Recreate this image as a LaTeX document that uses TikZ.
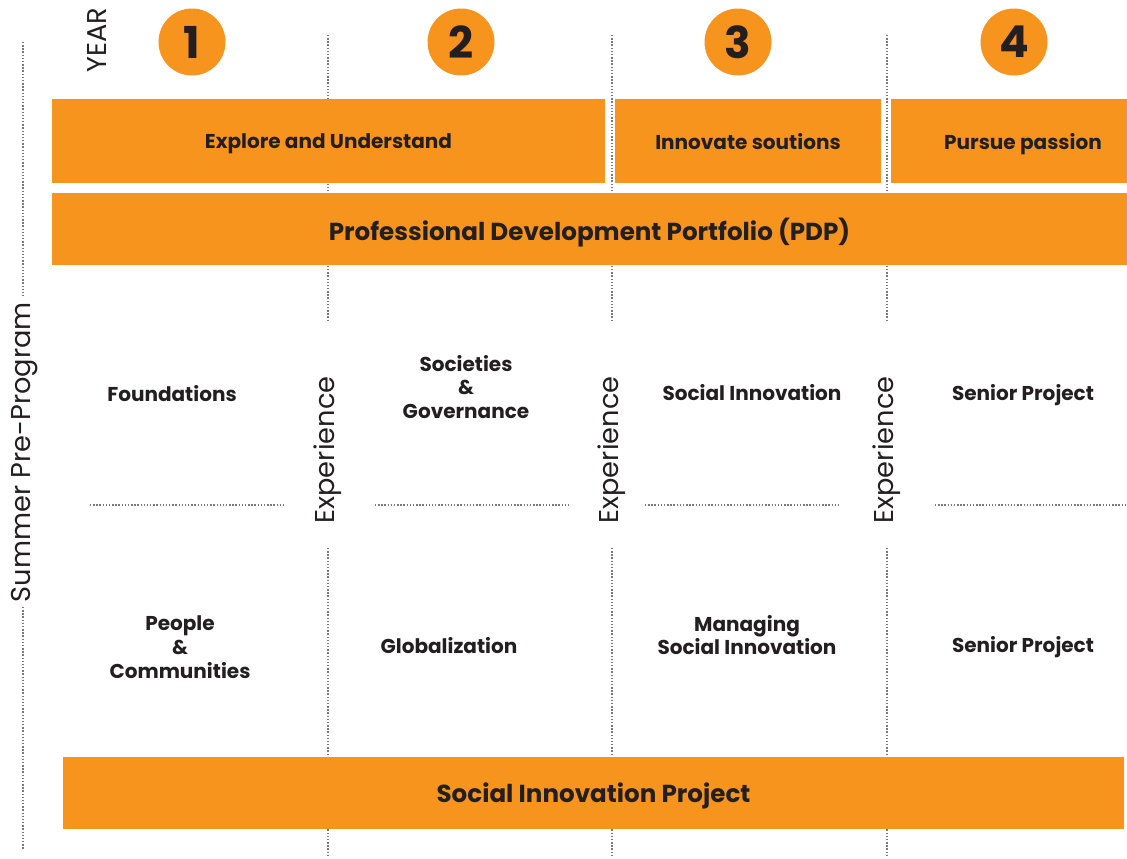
\documentclass[tikz,border=0pt]{standalone}
\usepackage{fontspec}
\setmainfont{Poppins}
\definecolor{barorange}{HTML}{F7941D}
\definecolor{ink}{HTML}{231F20}
\definecolor{dotgray}{HTML}{7A7A7A}

\begin{document}
\begin{tikzpicture}[x=0.02cm,y=-0.02cm,
    bar/.style={fill=barorange,inner sep=0pt,text=ink,text depth=0pt,
        font=\bfseries\fontsize{11.4}{13}\selectfont},
    bigbar/.style={bar,font=\bfseries\fontsize{14}{16}\selectfont},
    yearball/.style={circle,fill=barorange,minimum size=1.34cm,inner sep=0pt,
        text=ink,font=\bfseries\fontsize{25}{28}\selectfont},
    course/.style={align=center,text=ink,
        font=\bfseries\fontsize{11.4}{13.5}\selectfont},
    sidelabel/.style={rotate=90,text=ink,font=\fontsize{15.5}{18}\selectfont},
    sep/.style={draw=dotgray,line width=0.8pt,dash pattern=on 0.8pt off 1pt}]
    \useasboundingbox (0,0) rectangle (1127,859);

    % dotted separators
    \draw[sep] (23,42) -- (23,297) (23,607) -- (23,850);
    \foreach \x in {328,612,887}{
        \draw[sep] (\x,35) -- (\x,320) (\x,548) -- (\x,855);
    }
    \foreach \a/\b in {90/285,375/570,645/840,935/1127}{
        \draw[sep] (\a,505) -- (\b,505);
    }

    % years
    \node[sidelabel] (year) at (97,40) {YEAR};
    \node[yearball] (y1) at (192,42) {1};
    \node[yearball] (y2) at (461,42) {2};
    \node[yearball] (y3) at (738,42) {3};
    \node[yearball] (y4) at (1014,42) {4};

    % phases
    \node[bar,minimum width=11.06cm,minimum height=1.68cm] (explore) at (328.5,141) {Explore and Understand};
    \node[bar,minimum width=5.32cm,minimum height=1.68cm] (innovate) at (748,141) {Innovate soutions};
    \node[bar,minimum width=5.28cm,minimum height=1.68cm] (passion) at (1023,141) {Pursue passion};
    \node[bigbar,minimum width=21.5cm,minimum height=1.44cm] (pdp) at (589.5,229) {Professional Development Portfolio (PDP)};
    \node[bigbar,minimum width=21.22cm,minimum height=1.44cm] (sip) at (593.5,793) {Social Innovation Project};

    \node[sidelabel] (summer) at (25,452) {Summer Pre-Program};
    \foreach \x/\n in {328/exp1,612/exp2,887/exp3}{
        \node[sidelabel] (\n) at (\x,450) {Experience};
    }

    % courses
    \node[course] (found) at (172,394) {Foundations};
    \node[course] (soc) at (466,387) {Societies\\\&\\Governance};
    \node[course] (socinn) at (752,393) {Social Innovation};
    \node[course] (senior1) at (1023,395) {Senior Project};
    \node[course] (people) at (180,647) {People\\\&\\Communities};
    \node[course] (glob) at (449,646) {Globalization};
    \node[course] (manage) at (747,635) {Managing\\Social Innovation};
    \node[course] (senior2) at (1023,647) {Senior Project};
\end{tikzpicture}
\end{document}
